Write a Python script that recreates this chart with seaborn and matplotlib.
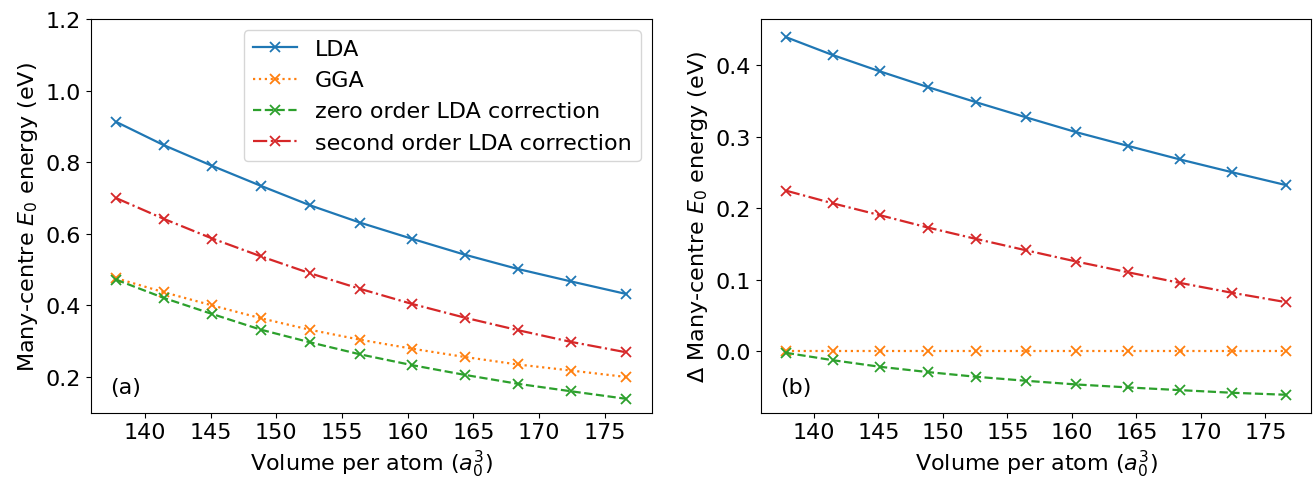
import matplotlib
matplotlib.use("Agg")
import matplotlib.pyplot as plt
import seaborn as sns
import pandas as pd
import numpy as np

volume = [137.82, 141.44, 145.13, 148.85, 152.56, 156.41, 160.35, 164.33, 168.37, 172.44, 176.63]

# panel (a)
lda_a = [0.913, 0.848, 0.790, 0.734, 0.680, 0.631, 0.586, 0.542, 0.502, 0.467, 0.432]
gga_a = [0.476, 0.437, 0.400, 0.364, 0.332, 0.304, 0.279, 0.256, 0.235, 0.218, 0.200]
zero_a = [0.472, 0.421, 0.376, 0.332, 0.297, 0.263, 0.233, 0.206, 0.181, 0.160, 0.139]
second_a = [0.700, 0.642, 0.587, 0.537, 0.490, 0.446, 0.404, 0.366, 0.331, 0.298, 0.269]

# panel (b)
lda_b = [0.439, 0.414, 0.391, 0.369, 0.348, 0.327, 0.306, 0.287, 0.268, 0.250, 0.232]
gga_b = [0.0, 0.0, 0.0, 0.0, 0.0, 0.0, 0.0, 0.0, 0.0, 0.0, 0.0]
zero_b = [-0.0023, -0.0126, -0.0219, -0.0293, -0.0358, -0.0414, -0.0466, -0.0507, -0.0545, -0.0582, -0.0610]
second_b = [0.2244, 0.2067, 0.1900, 0.1727, 0.1569, 0.1411, 0.1252, 0.1103, 0.0954, 0.0815, 0.0684]

labels = ["LDA", "GGA", "zero order LDA correction", "second order LDA correction"]
colors = ["#1f77b4", "#ff7f0e", "#2ca02c", "#d62728"]

FS = 16
plt.rcParams["font.family"] = ["DejaVu Sans"]
plt.rcParams["font.size"] = FS

fig = plt.figure(figsize=(13.14, 4.81), dpi=100)
ax1 = fig.add_axes([0.069, 0.140, 0.427, 0.818])
ax2 = fig.add_axes([0.579, 0.140, 0.419, 0.818])

palette = dict(zip(labels, colors))
dashes = dict(zip(labels, ["", (1, 1.65), (3.7, 1.6), (6.4, 1.6, 1, 1.6)]))
markers = dict(zip(labels, ["x"] * 4))

def draw(ax, series, legend):
    frames = []
    for vals, lab in zip(series, labels):
        frames.append(pd.DataFrame({"x": volume, "y": vals, "series": lab}))
    df = pd.concat(frames, ignore_index=True)
    sns.lineplot(data=df, x="x", y="y", hue="series", style="series",
                 hue_order=labels, style_order=labels, palette=palette,
                 dashes=dashes, markers=markers, markersize=7,
                 markeredgewidth=1.3, linewidth=1.6, ax=ax, legend=legend)
    for ln in ax.get_lines():
        ln.set_markeredgecolor(ln.get_color())

draw(ax1, [lda_a, gga_a, zero_a, second_a], "full")
draw(ax2, [lda_b, gga_b, zero_b, second_b], False)

ax1.set_ylim(top=1.2)
leg = ax1.legend(loc="upper right", fontsize=FS)
for ln in leg.get_lines():
    ln.set_markeredgecolor(ln.get_color())
    ln.set_markeredgewidth(1.3)

for ax, tag in [(ax1, "(a)"), (ax2, "(b)")]:
    ax.set_xlabel(r"Volume per atom ($a_0^3$)", fontsize=FS)
    ax.set_xticks([140, 145, 150, 155, 160, 165, 170, 175])
    ax.tick_params(labelsize=FS)
    ax.text(0.035, 0.05, tag, transform=ax.transAxes, fontsize=FS)

ax1.set_ylabel(r"Many-centre $E_0$ energy (eV)", fontsize=FS)
ax2.set_ylabel(r"$\Delta$ Many-centre $E_0$ energy (eV)", fontsize=FS)
ax1.set_yticks([0.2, 0.4, 0.6, 0.8, 1.0, 1.2])
ax2.set_yticks([0.0, 0.1, 0.2, 0.3, 0.4])

fig.savefig("out.png", dpi=100)
